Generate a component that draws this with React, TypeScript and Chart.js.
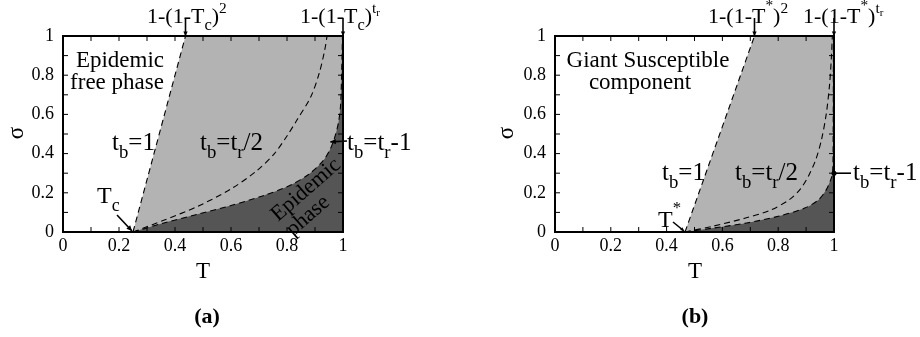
import React, { useEffect, useRef } from 'react';
import { Chart, registerables } from 'chart.js';
Chart.register(...registerables);

const FONT = '"Liberation Serif", "Times New Roman", serif';
const LIGHT = '#b3b3b3';
const DARK = '#555555';

// axis ticks (labels) and minor tick marks
const TICK_LABELS = [0, 0.2, 0.4, 0.6, 0.8, 1];
const MINOR_TICKS = [0, 0.1, 0.2, 0.3, 0.4, 0.5, 0.6, 0.7, 0.8, 0.9, 1];

// ---------- Panel (a) ----------
const A_TC = 0.25;
const A_TOP1 = 0.4375; // 1-(1-Tc)^2
const A_LIGHT_T = [0.25, 0.4375, 1];
const A_LIGHT_S = [0, 1, 1];
const A_TB1_T = [0.25, 0.4375];
const A_TB1_S = [0, 1];
const A_HALF_T = [0.25, 0.36, 0.48, 0.6, 0.69, 0.755, 0.8, 0.835, 0.885, 0.915, 0.935, 0.943];
const A_HALF_S = [0, 0.06, 0.13, 0.22, 0.31, 0.4, 0.49, 0.57, 0.69, 0.81, 0.93, 1];
const A_FULL_T = [0.25, 0.36, 0.48, 0.6, 0.715, 0.81, 0.88, 0.93, 0.955, 0.972, 0.984, 0.991, 0.995, 0.998];
const A_FULL_S = [0, 0.046, 0.09, 0.135, 0.185, 0.237, 0.297, 0.365, 0.425, 0.49, 0.56, 0.64, 0.8, 1];

// ---------- Panel (b) ----------
const B_TSTAR = 0.466;
const B_TOP1 = 0.715; // 1-(1-T*)^2
const B_LIGHT_T = [0.466, 0.715, 1];
const B_LIGHT_S = [0, 1, 1];
const B_TB1_T = [0.466, 0.715];
const B_TB1_S = [0, 1];
const B_HALF_T = [0.466, 0.567, 0.68, 0.77, 0.84, 0.88, 0.91, 0.935, 0.955, 0.972, 0.984, 0.991, 0.994];
const B_HALF_S = [0, 0.03, 0.07, 0.11, 0.165, 0.22, 0.29, 0.37, 0.47, 0.6, 0.75, 0.9, 1];
const B_FULL_T = [0.466, 0.567, 0.687, 0.8, 0.895, 0.945, 0.972, 0.988, 0.995, 0.997, 0.998];
const B_FULL_S = [0, 0.02, 0.046, 0.08, 0.122, 0.165, 0.215, 0.266, 0.3, 0.5, 1];

const zip = (xs: number[], ys: number[]) => xs.map((x, i) => ({ x, y: ys[i] }));

type Seg = [string, string];
function rich(ctx: CanvasRenderingContext2D, x: number, y: number, segs: Seg[], size: number) {
  let cx = x;
  for (const [t, k] of segs) {
    let s = size, dy = 0;
    if (k === 'sub') { s = size * 0.75; dy = size * 0.32; }
    else if (k === 'sup') { s = size * 0.7; dy = -size * 0.45; }
    else if (k === 'star') { s = size * 0.7; dy = -size * 0.58; }
    else if (k === 'supsub') { s = size * 0.5; dy = -size * 0.3; }
    ctx.font = `${s}px ${FONT}`;
    ctx.fillText(t, cx, y + dy);
    cx += ctx.measureText(t).width;
  }
}

function arrow(ctx: CanvasRenderingContext2D, x1: number, y1: number, x2: number, y2: number, head = 5) {
  ctx.beginPath();
  ctx.moveTo(x1, y1);
  ctx.lineTo(x2, y2);
  ctx.lineWidth = 1.6;
  ctx.strokeStyle = '#000';
  ctx.stroke();
  const a = Math.atan2(y2 - y1, x2 - x1);
  ctx.beginPath();
  ctx.moveTo(x2, y2);
  ctx.lineTo(x2 - head * Math.cos(a - 0.45), y2 - head * Math.sin(a - 0.45));
  ctx.lineTo(x2 - head * Math.cos(a + 0.45), y2 - head * Math.sin(a + 0.45));
  ctx.closePath();
  ctx.fillStyle = '#000';
  ctx.fill();
}

function centered(ctx: CanvasRenderingContext2D, t: string, x: number, y: number, font: string, rot = 0) {
  ctx.save();
  ctx.translate(x, y);
  ctx.rotate(rot);
  ctx.font = font;
  ctx.textAlign = 'center';
  ctx.textBaseline = 'middle';
  ctx.fillText(t, 0, 0);
  ctx.restore();
}

const framePlugin = {
  id: 'frame',
  afterDatasetsDraw(chart: any) {
    const { ctx, chartArea: ca, scales } = chart;
    const xs = scales.x, ys = scales.y;
    ctx.save();
    ctx.strokeStyle = '#000';
    ctx.lineWidth = 1;
    for (const v of MINOR_TICKS) {
      const px = xs.getPixelForValue(v);
      const py = ys.getPixelForValue(v);
      ctx.beginPath();
      ctx.moveTo(px, ca.bottom); ctx.lineTo(px, ca.bottom - 5);
      ctx.moveTo(px, ca.top); ctx.lineTo(px, ca.top + 5);
      ctx.moveTo(ca.left, py); ctx.lineTo(ca.left + 5, py);
      ctx.moveTo(ca.right, py); ctx.lineTo(ca.right - 5, py);
      ctx.stroke();
    }
    ctx.lineWidth = 2;
    ctx.strokeRect(ca.left, ca.top, ca.right - ca.left, ca.bottom - ca.top);
    ctx.restore();
  },
};

function annA(chart: any) {
  const { ctx, scales } = chart;
  const X = (v: number) => scales.x.getPixelForValue(v);
  const Y = (v: number) => scales.y.getPixelForValue(v);
  ctx.save();
  ctx.fillStyle = '#000';
  ctx.textBaseline = 'alphabetic';
  rich(ctx, 147, 23, [['1-(1-T', 'n'], ['c', 'sub'], [')', 'n'], ['2', 'sup']], 22);
  rich(ctx, 300, 23, [['1-(1-T', 'n'], ['c', 'sub'], [')', 'n'], ['t', 'sup'], ['r', 'supsub']], 22);
  arrow(ctx, X(A_TOP1), 18, X(A_TOP1), Y(1), 5);
  arrow(ctx, X(1), 18, X(1), Y(1), 5);
  ctx.fillStyle = '#000';
  centered(ctx, 'Epidemic', 120, 61, `23px ${FONT}`);
  centered(ctx, 'free phase', 117, 83, `23px ${FONT}`);
  rich(ctx, 112, 150, [['t', 'n'], ['b', 'sub'], ['=1', 'n']], 25);
  rich(ctx, 200, 150, [['t', 'n'], ['b', 'sub'], ['=t', 'n'], ['r', 'sub'], ['/2', 'n']], 25);
  rich(ctx, 347, 150, [['t', 'n'], ['b', 'sub'], ['=t', 'n'], ['r', 'sub'], ['-1', 'n']], 25);
  arrow(ctx, 347, 141, X(0.955), Y(0.46), 6);
  ctx.fillStyle = '#000';
  rich(ctx, 97, 203, [['T', 'n'], ['c', 'sub']], 24);
  arrow(ctx, 117, 215, X(A_TC) - 1, Y(0) - 1, 6);
  ctx.fillStyle = '#000';
  const rot = -41 * Math.PI / 180;
  centered(ctx, 'Epidemic', 306, 190, `22px ${FONT}`, rot);
  centered(ctx, 'phase', 308, 216, `22px ${FONT}`, rot);
  centered(ctx, 'σ', 17, 133, `23px ${FONT}`, -Math.PI / 2);
  centered(ctx, 'T', 203, 272, `23px ${FONT}`);
  centered(ctx, '(a)', 207, 317, `bold 22px ${FONT}`);
  ctx.restore();
}

function annB(chart: any) {
  const { ctx, scales } = chart;
  const X = (v: number) => scales.x.getPixelForValue(v);
  const Y = (v: number) => scales.y.getPixelForValue(v);
  ctx.save();
  ctx.fillStyle = '#000';
  ctx.textBaseline = 'alphabetic';
  rich(ctx, 248, 23, [['1-(1-T', 'n'], ['*', 'star'], [')', 'n'], ['2', 'sup']], 22);
  rich(ctx, 343, 23, [['1-(1-T', 'n'], ['*', 'star'], [')', 'n'], ['t', 'sup'], ['r', 'supsub']], 22);
  arrow(ctx, X(B_TOP1), 18, X(B_TOP1), Y(1), 5);
  arrow(ctx, X(1), 18, X(1), Y(1), 5);
  ctx.fillStyle = '#000';
  centered(ctx, 'Giant Susceptible', 188, 61, `23px ${FONT}`);
  centered(ctx, 'component', 180, 83, `23px ${FONT}`);
  rich(ctx, 202, 180, [['t', 'n'], ['b', 'sub'], ['=1', 'n']], 25);
  rich(ctx, 275, 180, [['t', 'n'], ['b', 'sub'], ['=t', 'n'], ['r', 'sub'], ['/2', 'n']], 25);
  rich(ctx, 393, 180, [['t', 'n'], ['b', 'sub'], ['=t', 'n'], ['r', 'sub'], ['-1', 'n']], 25);
  ctx.beginPath();
  ctx.moveTo(391, Y(0.3));
  ctx.lineTo(X(1), Y(0.3));
  ctx.lineWidth = 1.6;
  ctx.strokeStyle = '#000';
  ctx.stroke();
  ctx.beginPath();
  ctx.arc(X(1), Y(0.3), 2.5, 0, Math.PI * 2);
  ctx.fill();
  rich(ctx, 198, 227, [['T', 'n'], ['*', 'star']], 24);
  arrow(ctx, 213, 222, X(B_TSTAR) - 1, Y(0) - 1, 4);
  ctx.fillStyle = '#000';
  centered(ctx, 'σ', 47, 133, `23px ${FONT}`, -Math.PI / 2);
  centered(ctx, 'T', 235, 272, `23px ${FONT}`);
  centered(ctx, '(b)', 235, 317, `bold 22px ${FONT}`);
  ctx.restore();
}

const fmt = (v: any) => String(Math.round(Number(v) * 10) / 10);

function makeConfig(p: any) {
  const dash = [6, 4];
  return {
    type: 'line',
    data: {
      datasets: [
        { data: zip(p.tb1T, p.tb1S), borderColor: '#000', borderWidth: 1.1, borderDash: dash, fill: false, order: 1, tension: 0 },
        { data: zip(p.halfT, p.halfS), borderColor: '#000', borderWidth: 1.1, borderDash: dash, fill: false, order: 2, tension: 0.3 },
        { data: zip(p.fullT, p.fullS), borderColor: '#000', borderWidth: 1.1, borderDash: dash, backgroundColor: DARK, fill: 'origin', order: 3, tension: 0.3 },
        { data: zip(p.lightT, p.lightS), borderColor: 'rgba(0,0,0,0)', borderWidth: 1, backgroundColor: LIGHT, fill: 'origin', order: 4, tension: 0 },
      ],
    },
    options: {
      animation: false,
      responsive: false,
      maintainAspectRatio: false,
      layout: { padding: { left: p.padL, right: p.padR, top: 36, bottom: 75 } },
      elements: { point: { radius: 0, hoverRadius: 0 } },
      plugins: { legend: { display: false }, tooltip: { enabled: false } },
      scales: {
        x: {
          type: 'linear', min: 0, max: 1,
          grid: { display: false, drawTicks: false },
          border: { display: false },
          afterBuildTicks: (s: any) => { s.ticks = TICK_LABELS.map((v) => ({ value: v })); },
          ticks: { padding: 3, color: '#000', font: { family: FONT, size: 18 }, callback: fmt, maxRotation: 0, autoSkip: false },
          afterFit: (s: any) => { s.height = 30; },
        },
        y: {
          type: 'linear', min: 0, max: 1,
          grid: { display: false, drawTicks: false },
          border: { display: false },
          afterBuildTicks: (s: any) => { s.ticks = TICK_LABELS.map((v) => ({ value: v })); },
          ticks: { padding: 9, color: '#000', font: { family: FONT, size: 18 }, callback: fmt, autoSkip: false },
          afterFit: (s: any) => { s.width = 40; },
        },
      },
    },
    plugins: [framePlugin, { id: 'ann', afterDraw: p.ann }],
  };
}

const PANEL_A = {
  tb1T: A_TB1_T, tb1S: A_TB1_S, halfT: A_HALF_T, halfS: A_HALF_S, fullT: A_FULL_T, fullS: A_FULL_S,
  lightT: A_LIGHT_T, lightS: A_LIGHT_S, padL: 23, padR: 117, ann: annA,
};
const PANEL_B = {
  tb1T: B_TB1_T, tb1S: B_TB1_S, halfT: B_HALF_T, halfS: B_HALF_S, fullT: B_FULL_T, fullS: B_FULL_S,
  lightT: B_LIGHT_T, lightS: B_LIGHT_S, padL: 55, padR: 86, ann: annB,
};

function Panel({ p, left }: { p: any; left: number }) {
  const ref = useRef<HTMLCanvasElement>(null);
  useEffect(() => {
    const chart = new Chart(ref.current as HTMLCanvasElement, makeConfig(p) as any);
    return () => chart.destroy();
  }, [p]);
  return (
    <div style={{ position: 'absolute', left, top: 0, width: 460, height: 337 }}>
      <canvas ref={ref} width={460} height={337} style={{ width: 460, height: 337 }} />
    </div>
  );
}

export default function App() {
  return (
    <div style={{ position: 'fixed', left: 0, top: 0, width: 920, height: 337, background: '#fff' }}>
      <Panel p={PANEL_A} left={0} />
      <Panel p={PANEL_B} left={460} />
    </div>
  );
}
